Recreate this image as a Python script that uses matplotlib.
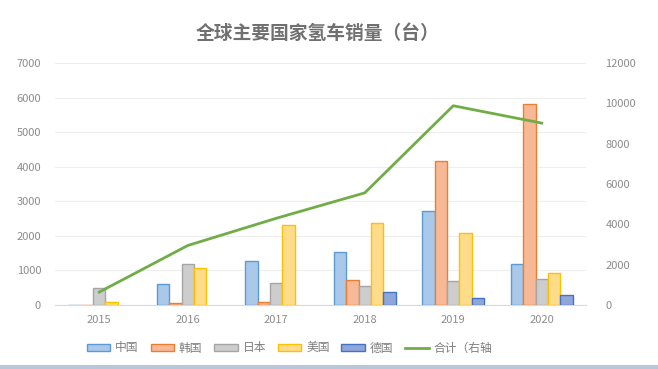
import matplotlib
matplotlib.use("Agg")
import matplotlib.pyplot as plt
import numpy as np
from matplotlib.patches import Rectangle
from matplotlib.lines import Line2D

plt.rcParams["font.family"] = ["Noto Sans CJK SC", "DejaVu Sans"]

# ── data ──────────────────────────────────────────────────────────────────────
years   = ["2015", "2016", "2017", "2018", "2019", "2020"]
china   = [10, 620, 1280, 1530, 2730, 1180]
korea   = [10, 60, 80, 725, 4175, 5815]
japan   = [480, 1180, 650, 560, 685, 760]
usa     = [100, 1080, 2300, 2365, 2085, 935]
germany = [0, 0, 0, 370, 200, 300]
total   = [640, 2950, 4300, 5560, 9880, 9020]

series = [
    ("中国", china,   "#A9C8EA", "#5B9BD5"),
    ("韩国", korea,   "#F6B895", "#ED7D31"),
    ("日本", japan,   "#CDCDCD", "#A5A5A5"),
    ("美国", usa,     "#FFDC8A", "#FFC000"),
    ("德国", germany, "#8FA6DA", "#4472C4"),
]
LINE_CLR = "#70AD47"
TICK_CLR = "#8C8C8C"

fig = plt.figure(figsize=(6.58, 3.69), dpi=100)
ax = fig.add_axes([55 / 658, 1 - 305 / 369, 531 / 658, 242 / 369])
ax2 = ax.twinx()

x = np.arange(len(years))
w = 0.14
for i, (name, vals, fc, ec) in enumerate(series):
    v = np.array(vals, dtype=float)
    v[v <= 0] = np.nan  # empty years draw nothing
    ax.bar(x + (i - 2) * w, v, width=w, color=fc, edgecolor=ec,
           linewidth=1.0, zorder=3)

ax2.plot(x, total, color=LINE_CLR, linewidth=2, zorder=4)

ax.set_xlim(-0.5, len(years) - 0.5)
ax.set_ylim(0, 7000)
ax2.set_ylim(0, 12000)
ax.set_yticks(range(0, 7001, 1000))
ax2.set_yticks(range(0, 12001, 2000))
ax.set_xticks(x)
ax.set_xticklabels(years)

ax.grid(axis="y", color="#EEEEEE", linewidth=0.8, zorder=0)
ax.set_axisbelow(True)
for a in (ax, ax2):
    for s in a.spines.values():
        s.set_visible(False)
    a.tick_params(length=0, labelsize=8, colors=TICK_CLR)
ax.spines["bottom"].set_visible(True)
ax.spines["bottom"].set_color("#D9D9D9")
ax.tick_params(axis="y", pad=10)
ax.tick_params(axis="x", pad=7)
ax2.tick_params(axis="y", pad=14)

fig.text(318 / 658, 1 - 33 / 369, "全球主要国家氢车销量（台）", ha="center", va="center",
         fontsize=13.5, color="#707070", fontweight="bold")

handles = [Rectangle((0, 0), 1, 1, facecolor=fc, edgecolor=ec, linewidth=1.0)
           for _, _, fc, ec in series]
handles.append(Line2D([0], [0], color=LINE_CLR, linewidth=2))
labels = [s[0] for s in series] + ["合计（右轴"]
fig.legend(handles, labels, loc="center", bbox_to_anchor=(0.44, 1 - 348 / 369),
           ncol=6, frameon=False, fontsize=8.5, labelcolor="#7F7F7F",
           handlelength=2.0, handleheight=0.6, columnspacing=1.0,
           handletextpad=0.4)

# window strip at the bottom edge
fig.patches.append(Rectangle((0, 0), 1, 4 / 369, transform=fig.transFigure,
                             facecolor="#B8C6DA", edgecolor="none"))

fig.savefig("out.png", dpi=100)
